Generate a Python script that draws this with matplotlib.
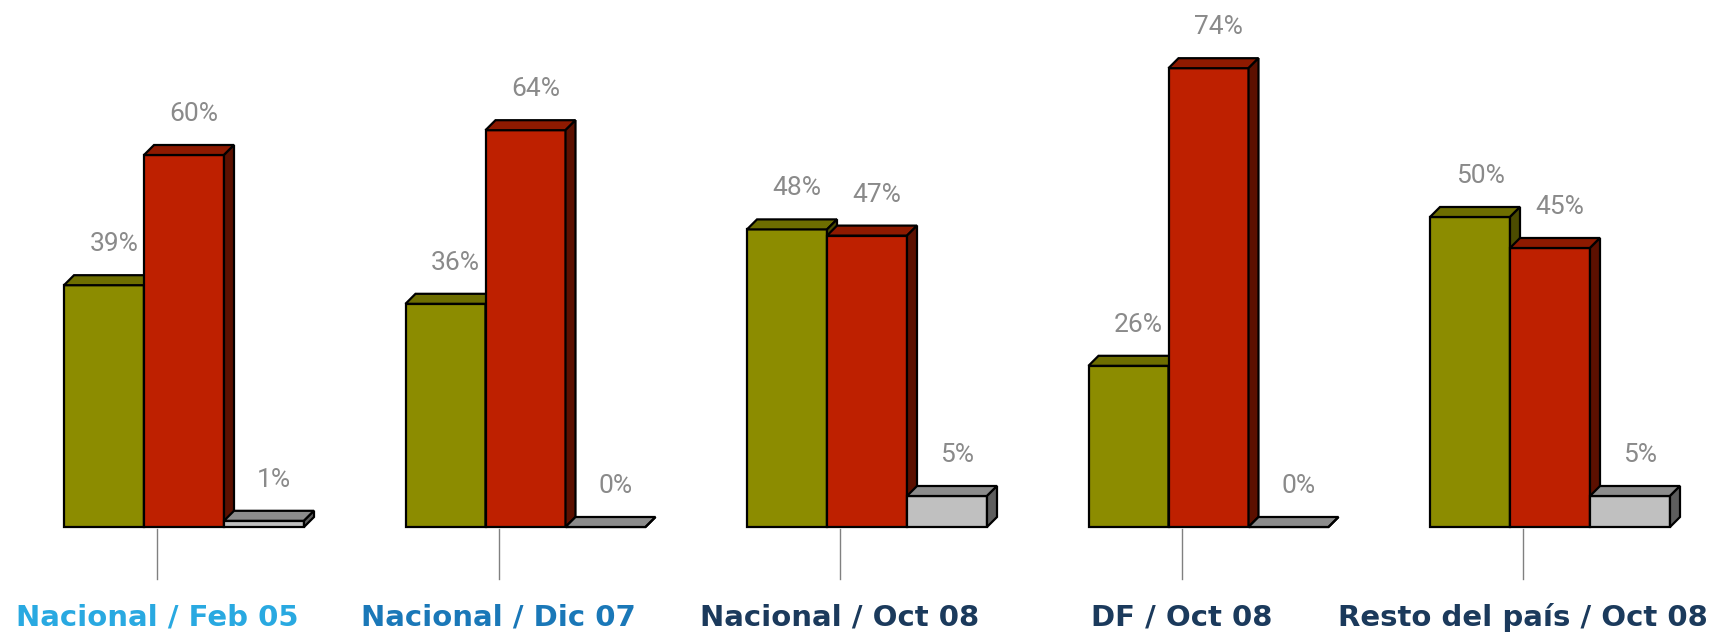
import matplotlib
matplotlib.use('Agg')
import matplotlib.pyplot as plt
from matplotlib.patches import Polygon
import numpy as np

# datos
categorias = ['Nacional / Feb 05', 'Nacional / Dic 07', 'Nacional / Oct 08',
              'DF / Oct 08', 'Resto del país / Oct 08']
serie_verde = [39, 36, 48, 26, 50]
serie_roja = [60, 64, 47, 74, 45]
serie_gris = [1, 0, 5, 0, 5]
colores_cat = ['#29A9E1', '#1A78B8', '#1B3A5C', '#1B3A5C', '#1B3A5C']

# estilo: (frente, arriba, lado)
estilos = [('#8C8C00', '#6E6E00', '#4C4C00'),
           ('#BE2000', '#8E1A00', '#5C1000'),
           ('#C0C0C0', '#8C8C8C', '#5E5E5E')]

PX_X = 341.5          # px por categoria
PX_Y = 6.2            # px por punto porcentual
ANCHO = 80 / PX_X
DX = 10 / PX_X
DY = 10 / PX_Y
OFF = -93 / PX_X      # borde izquierdo de la primera barra respecto al tick

fig = plt.figure(figsize=(17.1, 6.34), dpi=100)
ax = fig.add_axes([0, 0, 1, 1])
ax.set_xlim(-157 / PX_X, (1710 - 157) / PX_X)
ax.set_ylim(-(634 - 527) / PX_Y, 527 / PX_Y)
ax.axis('off')

x = np.arange(len(categorias))
series = [serie_verde, serie_roja, serie_gris]

for k, (valores, (c_front, c_top, c_side)) in enumerate(zip(series, estilos)):
    z = 2 + k
    izq = x + OFF + k * ANCHO
    ax.bar(izq, valores, width=ANCHO, align='edge', color=c_front,
           edgecolor='black', linewidth=1.6, zorder=z)
    for xi, v in zip(izq, valores):
        top = [(xi, v), (xi + DX, v + DY), (xi + ANCHO + DX, v + DY), (xi + ANCHO, v)]
        side = [(xi + ANCHO, 0), (xi + ANCHO, v), (xi + ANCHO + DX, v + DY), (xi + ANCHO + DX, DY)]
        ax.add_patch(Polygon(top, closed=True, facecolor=c_top, edgecolor='black',
                             linewidth=1.6, joinstyle='miter', zorder=z))
        ax.add_patch(Polygon(side, closed=True, facecolor=c_side, edgecolor='black',
                             linewidth=1.6, joinstyle='miter', zorder=z))
        ax.text(xi + ANCHO / 2 + DX, v + 41 / PX_Y, f'{v}%', ha='center', va='center',
                color='#8A8A8A', fontsize=19, family='Roboto', zorder=10)

# ticks y etiquetas de categoria
for xi, cat, col in zip(x, categorias, colores_cat):
    ax.plot([xi, xi], [-2 / PX_Y, -52 / PX_Y], color='#808080', linewidth=1)
    ax.text(xi, -(618 - 527) / PX_Y, cat, ha='center', va='center', color=col,
            fontsize=21, fontweight='bold', family='DejaVu Sans')

fig.savefig('out.png', dpi=100)
